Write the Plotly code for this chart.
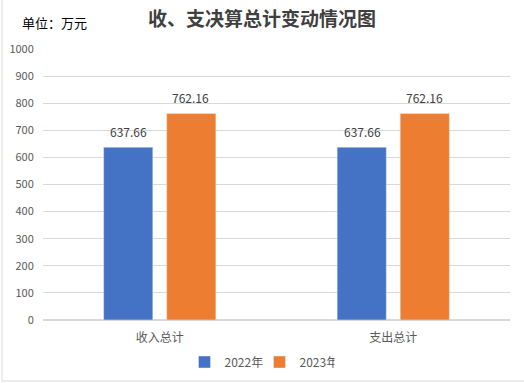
import plotly.graph_objects as go

categories = ["收入总计", "支出总计"]
series_names = ["2022年", "2023年"]
values_2022 = [637.66, 637.66]
values_2023 = [762.16, 762.16]
y_ticks = [0, 100, 200, 300, 400, 500, 600, 700, 800, 900, 1000]

W, H = 524, 383
ml, mr, mt, mb = 43, 14, 49, 63

fig = go.Figure()
annos = []
for name, vals, color, shift in [(series_names[0], values_2022, "#4472C4", -31),
                                 (series_names[1], values_2023, "#ED7D31", 31)]:
    fig.add_trace(go.Bar(x=categories, y=vals, name=name, marker_color=color))
    for c, v in zip(categories, vals):
        annos.append(dict(x=c, y=v, xref="x", yref="y", text=f"{v:.2f}", showarrow=False,
                          xshift=shift, yshift=16, yanchor="middle",
                          font=dict(size=12, color="#404040")))

pw = W - ml - mr
ph = H - mt - mb
annos.append(dict(text="单位：万元", xref="paper", yref="paper",
                  x=-(ml - 20) / pw, y=1 + (mt - 22) / ph, xanchor="left", yanchor="middle",
                  showarrow=False, font=dict(size=13, color="black")))

fig.update_layout(
    width=W, height=H,
    margin=dict(l=ml, r=mr, t=mt, b=mb, autoexpand=False),
    paper_bgcolor="white", plot_bgcolor="white",
    barmode="group", bargap=0.46, bargroupgap=0.22,
    font=dict(family="Noto Sans CJK SC, sans-serif", color="#595959"),
    title=dict(text="<b>收、支决算总计变动情况图</b>", x=0.5, xanchor="center",
               y=1 - 19 / H, yanchor="middle",
               font=dict(size=19, color="#404040", family="Noto Sans CJK SC, serif")),
    showlegend=True,
    legend=dict(orientation="h", x=0.5 - 17 / pw, xanchor="center", y=-(362 - 320) / ph,
                yanchor="middle", font=dict(size=12, color="#595959"), entrywidth=30,
                traceorder="normal"),
    yaxis=dict(range=[0, 1000], tickvals=y_ticks, showgrid=True, gridcolor="#D9D9D9",
               zeroline=True, zerolinecolor="#D9D9D9", tickfont=dict(size=11, color="#595959"),
               ticks="outside", ticklen=6, tickcolor="rgba(0,0,0,0)", showline=False,
               automargin=False),
    xaxis=dict(tickfont=dict(size=12, color="#595959"), showline=True, linecolor="#D9D9D9",
               ticks="outside", ticklen=7, tickcolor="rgba(0,0,0,0)", automargin=False),
    annotations=annos,
    shapes=[
        dict(type="line", xref="paper", yref="paper", x0=-(ml - 2) / pw, x1=-(ml - 2) / pw,
             y0=-(mb - 2) / ph, y1=1 + mt / ph, line=dict(color="#D9D9D9", width=1)),
        dict(type="line", xref="paper", yref="paper", x0=-(ml - 2) / pw, x1=1 + mr / pw,
             y0=-(mb - 2) / ph, y1=-(mb - 2) / ph, line=dict(color="#D9D9D9", width=1)),
    ],
)
fig.write_html("out.html", config={"displayModeBar": False},
               post_script="document.body.style.margin='0';")
